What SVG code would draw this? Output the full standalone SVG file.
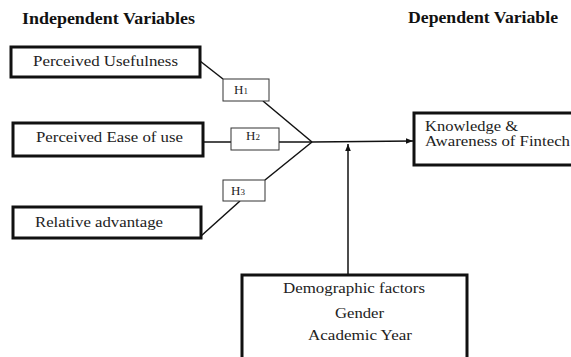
<svg xmlns="http://www.w3.org/2000/svg" width="571" height="357" viewBox="0 0 571 357">
<style>
text{font-family:"Liberation Serif","DejaVu Serif",serif;fill:#222}
.title{font-weight:bold;font-size:16px;fill:#111}
.lbl{font-size:14px}
.box{fill:#fff;stroke:#111;stroke-width:3}
.hbox{fill:#fff;stroke:#333;stroke-width:1}
.h{font-size:13px}
.sub{font-size:9px}
.con line{stroke:#111;stroke-width:1.5;fill:none}
</style>
<defs>
<marker id="arr" viewBox="0 0 10 10" refX="10" refY="5" markerWidth="7" markerHeight="7" markerUnits="userSpaceOnUse" orient="auto">
<path d="M0,1 L10,5 L0,9 z" fill="#111"/>
</marker>
</defs>
<text class="title" x="22" y="24" textLength="173" lengthAdjust="spacingAndGlyphs">Independent Variables</text>
<text class="title" x="408" y="23" textLength="150" lengthAdjust="spacingAndGlyphs">Dependent Variable</text>
<g class="con">
<line x1="200" y1="61" x2="223" y2="79"/>
<line x1="263" y1="101" x2="312" y2="142"/>
<line x1="203" y1="142" x2="231" y2="142"/>
<line x1="279" y1="142" x2="312" y2="142"/>
<line x1="312" y1="142" x2="265" y2="180"/>
<line x1="240" y1="201" x2="201" y2="236"/>
<line x1="312" y1="142" x2="413" y2="141" marker-end="url(#arr)"/>
<line x1="348" y1="275" x2="348" y2="144" marker-end="url(#arr)"/>
</g>
<g id="pu">
<rect class="box" x="11" y="47" width="189" height="30"/>
<text class="lbl" x="33" y="66" textLength="145" lengthAdjust="spacingAndGlyphs">Perceived Usefulness</text>
</g>
<g id="peou">
<rect class="box" x="13" y="123" width="190" height="33"/>
<text class="lbl" x="36" y="142" textLength="147" lengthAdjust="spacingAndGlyphs">Perceived Ease of use</text>
</g>
<g id="ra">
<rect class="box" x="13" y="207" width="188" height="31"/>
<text class="lbl" x="35" y="227" textLength="128" lengthAdjust="spacingAndGlyphs">Relative advantage</text>
</g>
<g id="h1">
<rect class="hbox" x="223" y="79" width="46" height="22"/>
<text class="h" x="234" y="94">H<tspan class="sub">1</tspan></text>
</g>
<g id="h2">
<rect class="hbox" x="231" y="128" width="48" height="22"/>
<text class="h" x="246" y="140">H<tspan class="sub">2</tspan></text>
</g>
<g id="h3">
<rect class="hbox" x="223" y="180" width="42" height="21"/>
<text class="h" x="231" y="195">H<tspan class="sub">3</tspan></text>
</g>
<g id="kaf">
<rect class="box" x="414" y="113" width="165" height="52"/>
<text class="lbl" x="425" y="131" textLength="93" lengthAdjust="spacingAndGlyphs">Knowledge &amp;</text>
<text class="lbl" x="425" y="146" textLength="145" lengthAdjust="spacingAndGlyphs">Awareness of Fintech</text>
</g>
<g id="demo">
<rect class="box" x="242" y="275" width="225" height="90"/>
<text class="lbl" x="283" y="293" textLength="142" lengthAdjust="spacingAndGlyphs">Demographic factors</text>
<text class="lbl" x="335" y="318" textLength="49" lengthAdjust="spacingAndGlyphs">Gender</text>
<text class="lbl" x="308" y="340" textLength="104" lengthAdjust="spacingAndGlyphs">Academic Year</text>
</g>
</svg>
